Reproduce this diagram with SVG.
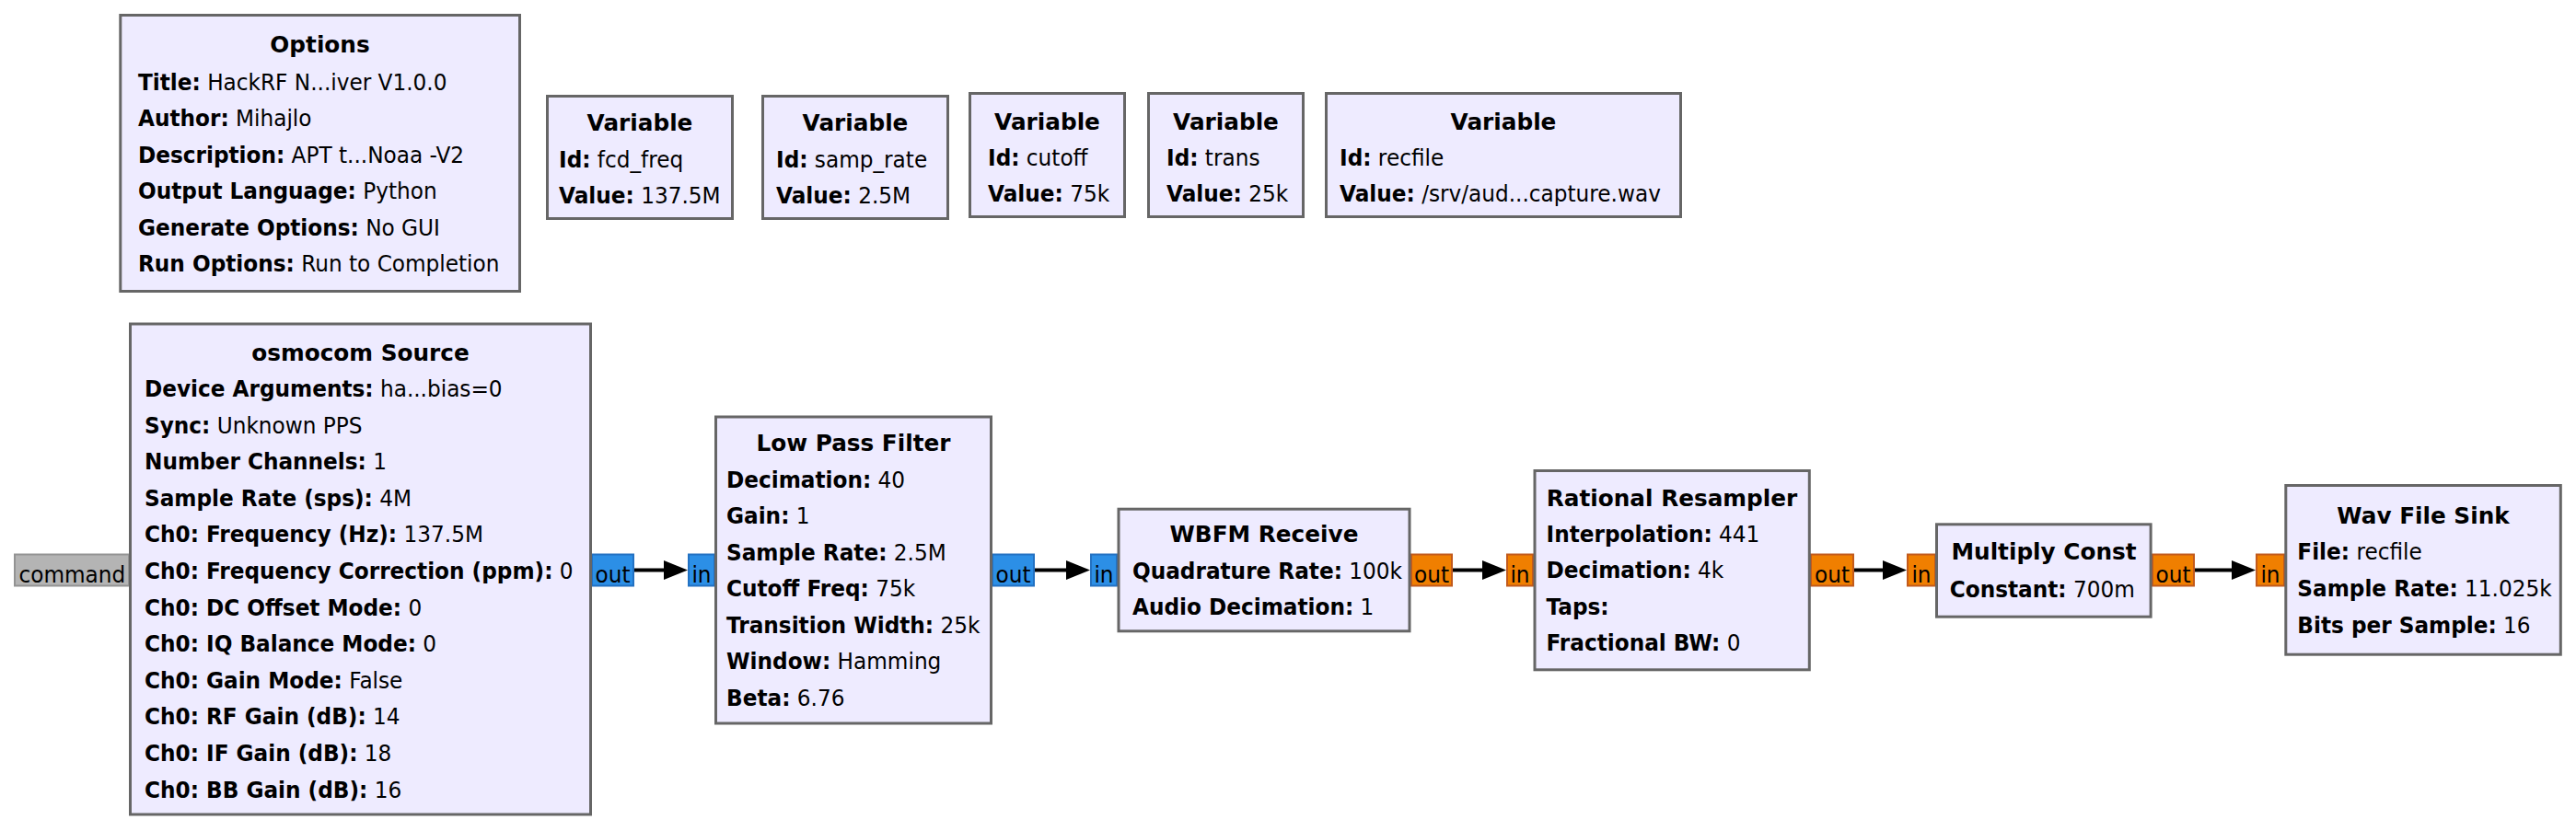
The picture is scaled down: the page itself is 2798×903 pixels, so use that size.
<svg xmlns="http://www.w3.org/2000/svg" width="2798" height="903" viewBox="0 0 2798 903">
<style>
.bg{fill:#fff}
.box{fill:#EEEBFF;stroke:#666;stroke-width:3}
.t{font-family:"DejaVu Sans","Liberation Sans",sans-serif;font-size:25.5px;fill:#000}
.h{font-weight:bold;text-anchor:middle}
.k{font-weight:bold}
.pb{fill:#2C8FE6;stroke:#2371C2;stroke-width:2}
.po{fill:#F07F00;stroke:#C25A1C;stroke-width:2}
.pg{fill:#B4B4B4;stroke:#939393;stroke-width:2}
.pt{text-anchor:middle}
.edge{stroke:#000;stroke-width:4;fill:none;marker-end:url(#arr)}
</style>
<defs>
<marker id="arr" markerUnits="userSpaceOnUse" markerWidth="27" markerHeight="22" refX="0" refY="10.5" orient="auto">
<path d="M0,0 L26,10.5 L0,21 z" fill="#000"/>
</marker>
</defs>
<rect class="bg" x="0" y="0" width="2798" height="903"/>

<g id="options">
<rect class="box" x="130.8" y="16.5" width="433.7" height="300"/>
<text class="t h" transform="translate(347.5 57) scale(0.97 1)">Options</text>
<text class="t" transform="translate(150 97.5) scale(0.91 1)"><tspan class="k">Title:</tspan> HackRF N...iver V1.0.0</text>
<text class="t" transform="translate(150 137) scale(0.91 1)"><tspan class="k">Author:</tspan> Mihajlo</text>
<text class="t" transform="translate(150 176.5) scale(0.91 1)"><tspan class="k">Description:</tspan> APT t...Noaa -V2</text>
<text class="t" transform="translate(150 216) scale(0.91 1)"><tspan class="k">Output Language:</tspan> Python</text>
<text class="t" transform="translate(150 255.5) scale(0.91 1)"><tspan class="k">Generate Options:</tspan> No GUI</text>
<text class="t" transform="translate(150 295) scale(0.91 1)"><tspan class="k">Run Options:</tspan> Run to Completion</text>
</g>

<g id="var_fcd_freq">
<rect class="box" x="594.5" y="104.5" width="201" height="133"/>
<text class="t h" transform="translate(695 142) scale(0.97 1)">Variable</text>
<text class="t" transform="translate(607 181.7) scale(0.91 1)"><tspan class="k">Id:</tspan> fcd_freq</text>
<text class="t" transform="translate(607 220.7) scale(0.91 1)"><tspan class="k">Value:</tspan> 137.5M</text>
</g>

<g id="var_samp_rate">
<rect class="box" x="828.5" y="104.5" width="201" height="133"/>
<text class="t h" transform="translate(929 142) scale(0.97 1)">Variable</text>
<text class="t" transform="translate(843 181.7) scale(0.91 1)"><tspan class="k">Id:</tspan> samp_rate</text>
<text class="t" transform="translate(843 220.7) scale(0.91 1)"><tspan class="k">Value:</tspan> 2.5M</text>
</g>

<g id="var_cutoff">
<rect class="box" x="1053.5" y="101.5" width="168" height="134"/>
<text class="t h" transform="translate(1137.5 140.7) scale(0.97 1)">Variable</text>
<text class="t" transform="translate(1073 179.5) scale(0.91 1)"><tspan class="k">Id:</tspan> cutoff</text>
<text class="t" transform="translate(1073 218.5) scale(0.91 1)"><tspan class="k">Value:</tspan> 75k</text>
</g>

<g id="var_trans">
<rect class="box" x="1247.5" y="101.5" width="168" height="134"/>
<text class="t h" transform="translate(1331.5 140.7) scale(0.97 1)">Variable</text>
<text class="t" transform="translate(1267 179.5) scale(0.91 1)"><tspan class="k">Id:</tspan> trans</text>
<text class="t" transform="translate(1267 218.5) scale(0.91 1)"><tspan class="k">Value:</tspan> 25k</text>
</g>

<g id="var_recfile">
<rect class="box" x="1440.5" y="101.5" width="385" height="134"/>
<text class="t h" transform="translate(1633 140.7) scale(0.97 1)">Variable</text>
<text class="t" transform="translate(1455 179.5) scale(0.91 1)"><tspan class="k">Id:</tspan> recfile</text>
<text class="t" transform="translate(1455 218.5) scale(0.91 1)"><tspan class="k">Value:</tspan> /srv/aud...capture.wav</text>
</g>

<g id="osmocom_source">
<rect class="pg" x="16" y="602.5" width="124" height="34"/>
<text class="t" transform="translate(20.5 633) scale(0.91 1)">command</text>
<rect class="pb" x="643" y="602.5" width="45" height="34"/>
<text class="t pt" transform="translate(665.5 633) scale(0.91 1)">out</text>
<rect class="box" x="141.5" y="352" width="500" height="533"/>
<text class="t h" transform="translate(391.5 392) scale(0.97 1)">osmocom Source</text>
<text class="t" transform="translate(157 431) scale(0.91 1)"><tspan class="k">Device Arguments:</tspan> ha...bias=0</text>
<text class="t" transform="translate(157 470.6) scale(0.91 1)"><tspan class="k">Sync:</tspan> Unknown PPS</text>
<text class="t" transform="translate(157 510.2) scale(0.91 1)"><tspan class="k">Number Channels:</tspan> 1</text>
<text class="t" transform="translate(157 549.8) scale(0.91 1)"><tspan class="k">Sample Rate (sps):</tspan> 4M</text>
<text class="t" transform="translate(157 589.4) scale(0.91 1)"><tspan class="k">Ch0: Frequency (Hz):</tspan> 137.5M</text>
<text class="t" transform="translate(157 629) scale(0.91 1)"><tspan class="k">Ch0: Frequency Correction (ppm):</tspan> 0</text>
<text class="t" transform="translate(157 668.6) scale(0.91 1)"><tspan class="k">Ch0: DC Offset Mode:</tspan> 0</text>
<text class="t" transform="translate(157 708.2) scale(0.91 1)"><tspan class="k">Ch0: IQ Balance Mode:</tspan> 0</text>
<text class="t" transform="translate(157 747.8) scale(0.91 1)"><tspan class="k">Ch0: Gain Mode:</tspan> False</text>
<text class="t" transform="translate(157 787.4) scale(0.91 1)"><tspan class="k">Ch0: RF Gain (dB):</tspan> 14</text>
<text class="t" transform="translate(157 827) scale(0.91 1)"><tspan class="k">Ch0: IF Gain (dB):</tspan> 18</text>
<text class="t" transform="translate(157 866.6) scale(0.91 1)"><tspan class="k">Ch0: BB Gain (dB):</tspan> 16</text>
</g>

<g id="low_pass_filter">
<rect class="pb" x="748" y="602.5" width="28" height="34"/>
<text class="t pt" transform="translate(762 633) scale(0.91 1)">in</text>
<rect class="pb" x="1078" y="602.5" width="45" height="34"/>
<text class="t pt" transform="translate(1100.5 633) scale(0.91 1)">out</text>
<rect class="box" x="777.5" y="453" width="299" height="333"/>
<text class="t h" transform="translate(927 490) scale(0.97 1)">Low Pass Filter</text>
<text class="t" transform="translate(789 529.5) scale(0.91 1)"><tspan class="k">Decimation:</tspan> 40</text>
<text class="t" transform="translate(789 569) scale(0.91 1)"><tspan class="k">Gain:</tspan> 1</text>
<text class="t" transform="translate(789 608.5) scale(0.91 1)"><tspan class="k">Sample Rate:</tspan> 2.5M</text>
<text class="t" transform="translate(789 648) scale(0.91 1)"><tspan class="k">Cutoff Freq:</tspan> 75k</text>
<text class="t" transform="translate(789 687.5) scale(0.91 1)"><tspan class="k">Transition Width:</tspan> 25k</text>
<text class="t" transform="translate(789 727) scale(0.91 1)"><tspan class="k">Window:</tspan> Hamming</text>
<text class="t" transform="translate(789 766.5) scale(0.91 1)"><tspan class="k">Beta:</tspan> 6.76</text>
</g>

<g id="wbfm_receive">
<rect class="pb" x="1185" y="602.5" width="28" height="34"/>
<text class="t pt" transform="translate(1199 633) scale(0.91 1)">in</text>
<rect class="po" x="1533" y="602.5" width="44" height="34"/>
<text class="t pt" transform="translate(1555 633) scale(0.91 1)">out</text>
<rect class="box" x="1215" y="553.2" width="316" height="132.6"/>
<text class="t h" transform="translate(1373 588.5) scale(0.97 1)">WBFM Receive</text>
<text class="t" transform="translate(1230 629) scale(0.91 1)"><tspan class="k">Quadrature Rate:</tspan> 100k</text>
<text class="t" transform="translate(1230 668.3) scale(0.91 1)"><tspan class="k">Audio Decimation:</tspan> 1</text>
</g>

<g id="rational_resampler">
<rect class="po" x="1637" y="602.5" width="28" height="34"/>
<text class="t pt" transform="translate(1651 633) scale(0.91 1)">in</text>
<rect class="po" x="1967" y="602.5" width="46" height="34"/>
<text class="t pt" transform="translate(1990 633) scale(0.91 1)">out</text>
<rect class="box" x="1667" y="511.5" width="298.3" height="216.3"/>
<text class="t h" transform="translate(1816 550) scale(0.97 1)">Rational Resampler</text>
<text class="t" transform="translate(1679.5 589.3) scale(0.91 1)"><tspan class="k">Interpolation:</tspan> 441</text>
<text class="t" transform="translate(1679.5 628.3) scale(0.91 1)"><tspan class="k">Decimation:</tspan> 4k</text>
<text class="t" transform="translate(1679.5 667.7) scale(0.91 1)"><tspan class="k">Taps:</tspan></text>
<text class="t" transform="translate(1679.5 706.7) scale(0.91 1)"><tspan class="k">Fractional BW:</tspan> 0</text>
</g>

<g id="multiply_const">
<rect class="po" x="2072" y="602.5" width="30" height="34"/>
<text class="t pt" transform="translate(2087 633) scale(0.91 1)">in</text>
<rect class="po" x="2338" y="602.5" width="45" height="34"/>
<text class="t pt" transform="translate(2360.5 633) scale(0.91 1)">out</text>
<rect class="box" x="2103.5" y="569.8" width="232.6" height="100.4"/>
<text class="t h" transform="translate(2220 608.3) scale(0.97 1)">Multiply Const</text>
<text class="t" transform="translate(2117.7 649) scale(0.91 1)"><tspan class="k">Constant:</tspan> 700m</text>
</g>

<g id="wav_file_sink">
<rect class="po" x="2451" y="602.5" width="30" height="34"/>
<text class="t pt" transform="translate(2466 633) scale(0.91 1)">in</text>
<rect class="box" x="2482.8" y="527.5" width="298.5" height="183.7"/>
<text class="t h" transform="translate(2632 569) scale(0.97 1)">Wav File Sink</text>
<text class="t" transform="translate(2495.3 608.3) scale(0.91 1)"><tspan class="k">File:</tspan> recfile</text>
<text class="t" transform="translate(2495.3 648.3) scale(0.91 1)"><tspan class="k">Sample Rate:</tspan> 11.025k</text>
<text class="t" transform="translate(2495.3 687.7) scale(0.91 1)"><tspan class="k">Bits per Sample:</tspan> 16</text>
</g>

<g id="connectors">
<path class="edge" d="M689,619.5 H721"/>
<path class="edge" d="M1124,619.5 H1158"/>
<path class="edge" d="M1578,619.5 H1610"/>
<path class="edge" d="M2014,619.5 H2045"/>
<path class="edge" d="M2384,619.5 H2424"/>
</g>
</svg>
